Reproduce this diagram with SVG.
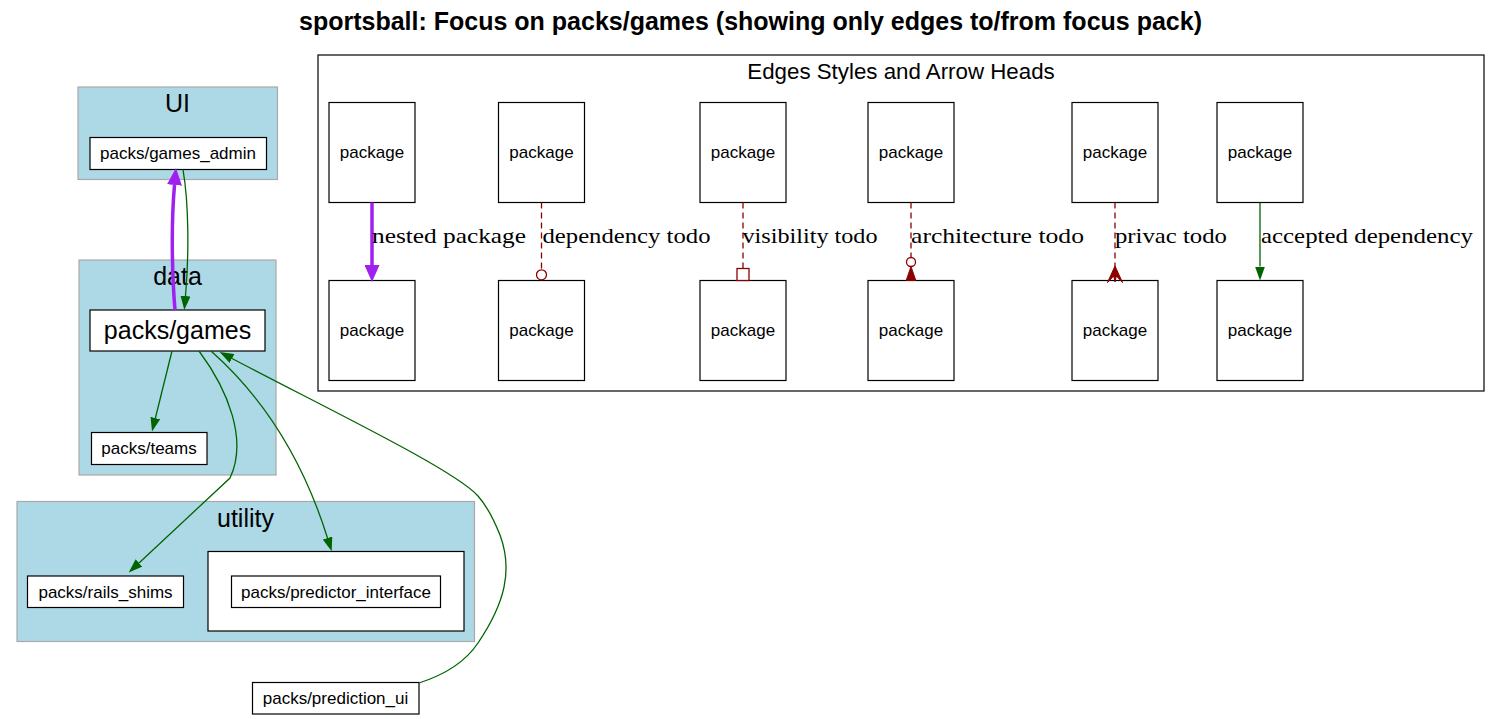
<svg xmlns="http://www.w3.org/2000/svg" width="1501" height="719" viewBox="0 0 1501 719">
<style>
.cl{fill:#add8e6;stroke:#a9a9a9;stroke-width:1.2}
.nd{fill:#ffffff;stroke:#000000;stroke-width:1.2}
.t{font-family:"Liberation Sans",Arial,sans-serif;fill:#000;text-anchor:middle}
.n{font-size:17px}
.big{font-size:25px}
.lbl{font-family:"Liberation Serif","Times New Roman",serif;font-size:22px;fill:#000}
.g{fill:none;stroke:#006400;stroke-width:1.3}
.p{fill:none;stroke:#a020f0;stroke-width:3.5}
.d{fill:none;stroke:#8b0000;stroke-width:1.3;stroke-dasharray:6,4}
</style>
<defs>
<marker id="ag" markerUnits="userSpaceOnUse" viewBox="0 0 14 10" refX="0" refY="5" markerWidth="14" markerHeight="10" orient="auto">
<path d="M0,0 L14,5 L0,10 Z" fill="#006400"/>
</marker>
<marker id="ap" markerUnits="userSpaceOnUse" viewBox="0 0 17 15" refX="0" refY="7.5" markerWidth="17" markerHeight="15" orient="auto">
<path d="M0,0 L17,7.5 L0,15 Z" fill="#a020f0"/>
</marker>
</defs>
<rect x="0" y="0" width="1501" height="719" fill="#ffffff"/>
<text id="title" x="750.5" y="30" class="t" style="font-size:25px;font-weight:bold">sportsball: Focus on packs/games (showing only edges to/from focus pack)</text>

<g id="cluster_ui">
<rect class="cl" x="78" y="87" width="199.5" height="92.5"/>
<text class="t big" x="177.5" y="112">UI</text>
</g>
<g id="cluster_data">
<rect class="cl" x="79" y="260" width="197" height="215"/>
<text class="t big" x="177.5" y="285">data</text>
</g>
<g id="cluster_utility">
<rect class="cl" x="17" y="501.5" width="457.5" height="140"/>
<text class="t big" x="245.5" y="527">utility</text>
</g>

<g id="node_games_admin">
<rect class="nd" x="90" y="137.5" width="176.5" height="32"/>
<text class="t n" x="178" y="159">packs/games_admin</text>
</g>
<g id="node_games">
<rect class="nd" x="90" y="310" width="175" height="41"/>
<text class="t big" x="177.5" y="339">packs/games</text>
</g>
<g id="node_teams">
<rect class="nd" x="91.5" y="432.5" width="115.5" height="32"/>
<text class="t n" x="149" y="454">packs/teams</text>
</g>
<g id="node_rails_shims">
<rect class="nd" x="27.5" y="576" width="156" height="31.5"/>
<text class="t n" x="105.5" y="597.5">packs/rails_shims</text>
</g>
<g id="node_predictor_box">
<rect class="nd" x="208" y="551.5" width="256" height="79.5"/>
</g>
<g id="node_predictor_interface">
<rect class="nd" x="231.5" y="576" width="209" height="31.5"/>
<text class="t n" x="336" y="597.5">packs/predictor_interface</text>
</g>
<g id="node_prediction_ui">
<rect class="nd" x="252.5" y="682.5" width="166.5" height="31.5"/>
<text class="t n" x="335.5" y="704">packs/prediction_ui</text>
</g>

<g id="legend">
<rect x="318" y="55" width="1166" height="336" fill="none" stroke="#000" stroke-width="1.2"/>
<text class="t" x="901" y="79" style="font-size:22.3px">Edges Styles and Arrow Heads</text>
<g id="lp1"><rect class="nd" x="329" y="102.5" width="86" height="100"/><text class="t n" x="372" y="158">package</text></g>
<g id="lp2"><rect class="nd" x="498.5" y="102.5" width="86" height="100"/><text class="t n" x="541.5" y="158">package</text></g>
<g id="lp3"><rect class="nd" x="700" y="102.5" width="86" height="100"/><text class="t n" x="743" y="158">package</text></g>
<g id="lp4"><rect class="nd" x="868" y="102.5" width="86" height="100"/><text class="t n" x="911" y="158">package</text></g>
<g id="lp5"><rect class="nd" x="1072" y="102.5" width="86" height="100"/><text class="t n" x="1115" y="158">package</text></g>
<g id="lp6"><rect class="nd" x="1217" y="102.5" width="86" height="100"/><text class="t n" x="1260" y="158">package</text></g>
<g id="lq1"><rect class="nd" x="329" y="280.5" width="86" height="100"/><text class="t n" x="372" y="336">package</text></g>
<g id="lq2"><rect class="nd" x="498.5" y="280.5" width="86" height="100"/><text class="t n" x="541.5" y="336">package</text></g>
<g id="lq3"><rect class="nd" x="700" y="280.5" width="86" height="100"/><text class="t n" x="743" y="336">package</text></g>
<g id="lq4"><rect class="nd" x="868" y="280.5" width="86" height="100"/><text class="t n" x="911" y="336">package</text></g>
<g id="lq5"><rect class="nd" x="1072" y="280.5" width="86" height="100"/><text class="t n" x="1115" y="336">package</text></g>
<g id="lq6"><rect class="nd" x="1217" y="280.5" width="86" height="100"/><text class="t n" x="1260" y="336">package</text></g>
</g>

<g id="connectors">
<path class="p" d="M175,310 C172,275 171,225 174.5,185" marker-end="url(#ap)"/>
<path class="g" d="M183,169.5 C189,205 189,255 185.5,296" marker-end="url(#ag)"/>
<path class="g" d="M172,351 L155.4,418" marker-end="url(#ag)"/>
<path class="g" d="M199,351 C228,390 248,440 230,478 L139,563" marker-end="url(#ag)"/>
<path class="g" d="M211,351 C255,390 300,450 327.5,538" marker-end="url(#ag)"/>
<path class="g" d="M419,683 C450,673 468,658 478,643 C505,603 513,570 500,535 C492,515 486,505 478,496 C455,470 330,410 232,358.5" marker-end="url(#ag)"/>

<path class="p" d="M372,202.5 L372,265" marker-end="url(#ap)"/>
<text class="lbl" x="372" y="243" textLength="154" lengthAdjust="spacingAndGlyphs">nested package</text>

<path class="d" d="M541.5,202.5 L541.5,269"/>
<circle cx="541.5" cy="274.8" r="5" fill="#fff" stroke="#8b0000" stroke-width="1.3"/>
<text class="lbl" x="542.5" y="243" textLength="168" lengthAdjust="spacingAndGlyphs">dependency todo</text>

<path class="d" d="M743,202.5 L743,268.5"/>
<rect x="737" y="268.5" width="12" height="12" fill="#fff" stroke="#8b0000" stroke-width="1.3"/>
<text class="lbl" x="742.5" y="243" textLength="135" lengthAdjust="spacingAndGlyphs">visibility todo</text>

<path class="d" d="M911,202.5 L911,257.5"/>
<circle cx="911" cy="262" r="4.5" fill="#fff" stroke="#8b0000" stroke-width="1.3"/>
<path d="M911,266.5 L915.8,280.5 L906.2,280.5 Z" fill="#8b0000" stroke="#8b0000" stroke-width="1"/>
<text class="lbl" x="911" y="243" textLength="173" lengthAdjust="spacingAndGlyphs">architecture todo</text>

<path class="d" d="M1115,202.5 L1115,268"/>
<path d="M1115,266 L1122.5,282.5 L1116.3,276 L1115,282 L1113.7,276 L1107.5,282.5 Z" fill="#8b0000" stroke="#8b0000" stroke-width="1"/>
<text class="lbl" x="1115" y="243" textLength="112" lengthAdjust="spacingAndGlyphs">privac todo</text>

<path class="g" d="M1260,202.5 L1260,266.5" marker-end="url(#ag)"/>
<text class="lbl" x="1261" y="243" textLength="212" lengthAdjust="spacingAndGlyphs">accepted dependency</text>
</g>
</svg>
